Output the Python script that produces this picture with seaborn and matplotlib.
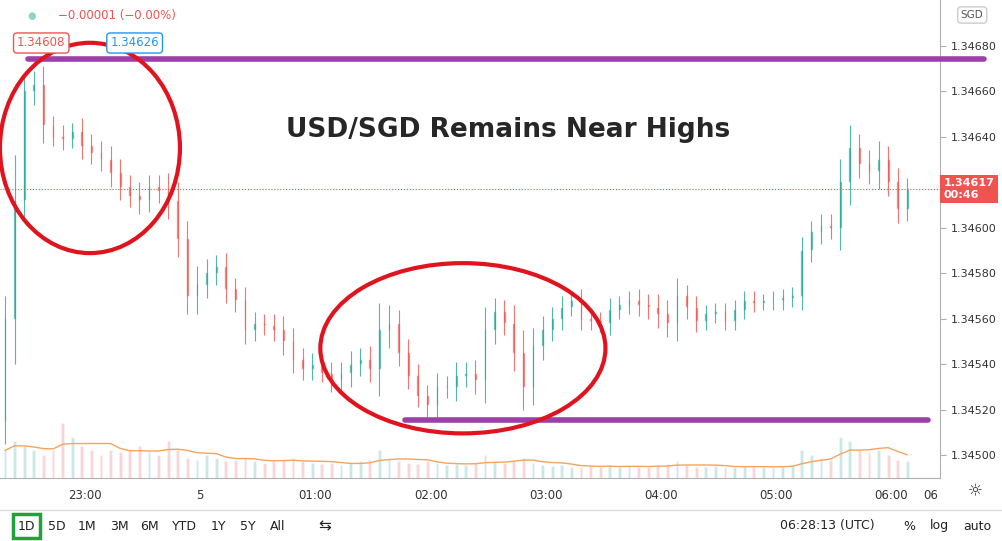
import numpy as np
import pandas as pd
import matplotlib.pyplot as plt
import seaborn as sns
from matplotlib.patches import Ellipse, Rectangle

# 5-minute bars, prices as offsets in 1e-5 above 1.34500
first_open = 15
closes = [60, 112, 160, 163, 145, 140, 139, 142, 136, 133, 130, 124, 118, 114, 112, 118, 116, 112, 95, 70,
          75, 80, 83, 73, 68, 55, 58, 57, 55, 50, 42, 38, 40, 36, 33, 36, 40, 42, 38, 55,
          58, 45, 35, 26, 22, 30, 30, 35, 36, 33, 55, 63, 58, 45, 30, 48, 55, 60, 65, 68,
          60, 59, 58, 64, 66, 68, 66, 65, 62, 58, 70, 65, 59, 62, 63, 59, 64, 68, 67, 68,
          68, 69, 70, 90, 98, 101, 100, 120, 135, 128, 125, 130, 120, 108, 117]
wicks = [10, 20, 8, 6, 8, 4, 5, 4, 6, 5, 5, 6, 6, 5, 6, 5, 5, 8, 8, 8,
         8, 6, 5, 6, 5, 6, 5, 4, 5, 6, 6, 5, 5, 4, 5, 5, 6, 5, 6, 12,
         8, 6, 6, 5, 5, 6, 5, 6, 5, 6, 10, 6, 5, 8, 10, 8, 6, 5, 5, 4,
         5, 4, 4, 5, 4, 4, 5, 5, 6, 6, 8, 5, 5, 4, 4, 4, 4, 4, 4, 3,
         4, 4, 4, 6, 5, 5, 5, 10, 10, 6, 6, 8, 6, 6, 5]
volumes = [30, 40, 35, 30, 25, 30, 60, 45, 35, 30, 25, 30, 28, 30, 35, 28, 25, 40, 30, 22,
           20, 25, 22, 18, 20, 22, 18, 16, 18, 20, 22, 18, 16, 15, 16, 14, 16, 18, 20, 30,
           22, 18, 16, 15, 18, 16, 14, 15, 14, 16, 25, 18, 16, 20, 22, 16, 14, 13, 14, 12,
           12, 13, 12, 14, 12, 13, 12, 12, 14, 15, 18, 14, 12, 12, 13, 12, 12, 13, 12, 12,
           12, 13, 14, 30, 25, 22, 20, 45, 40, 30, 28, 30, 25, 20, 18]
tick_labels = ["23:00", "5", "01:00", "02:00", "03:00", "04:00", "05:00", "06:00", "06"]
tick_minutes = [41.7, 101.7, 161.7, 221.7, 281.7, 341.7, 401.7, 461.7, 482]  # minutes after first bar
price_ticks = [1.34500, 1.34520, 1.34540, 1.34560, 1.34580, 1.34600, 1.34640, 1.34660, 1.34680]
last_price = 1.34617

base = 1.34500
c = base + np.array(closes) * 1e-5
o = np.concatenate([[base + first_open * 1e-5], c[:-1]])
w = np.array(wicks) * 1e-5
hi = np.maximum(o, c) + w
lo = np.minimum(o, c) - w
idx = np.arange(len(c))
df = pd.DataFrame({"i": idx, "vol": volumes})
df["ma"] = df["vol"].rolling(6, min_periods=1).mean()

sns.set_style("white")
plt.rcParams["font.family"] = ["DejaVu Sans"]
fig = plt.figure(figsize=(10.03, 5.41), dpi=100)
ax = fig.add_axes([0, 1 - 478 / 541, 940 / 1003, 478 / 541])

up_col, dn_col = "#26a69a", "#ef5350"
cols = [up_col if cc >= oo else dn_col for oo, cc in zip(o, c)]
ax.vlines(idx, lo, hi, colors=cols, linewidth=0.8, alpha=0.8)
ax.bar(idx, np.abs(c - o) + 0.3e-5, bottom=np.minimum(o, c), width=0.3, color=cols, alpha=0.8)

ax.set_xlim(-0.52, 97.4)
ax.set_ylim(1.34490, 1.34700)

# volume
vax = ax.twinx()
vax.bar(idx, volumes, width=0.3, color=cols, alpha=0.25)
sns.lineplot(data=df, x="i", y="ma", ax=vax, color="#f7a35c", linewidth=1)
vax.set_ylim(0, 520)
vax.set_axis_off()

# overlays
ax.axhline(last_price, color=dn_col, linestyle=":", linewidth=0.8)
ax.plot([2.4, 102], [1.34674, 1.34674], color="#9c3fa8", linewidth=4, clip_on=False, zorder=5)
ax.plot([41.7, 96.2], [1.345154, 1.345154], color="#9c3fa8", linewidth=4, zorder=5)
ax.add_patch(Ellipse((8.85, 1.34635), 18.75, 0.000924, fill=False, edgecolor="#e0141e", linewidth=3, zorder=6))
ax.add_patch(Ellipse((47.7, 1.34547), 29.7, 0.000748, fill=False, edgecolor="#e0141e", linewidth=3, zorder=6))
ax.text(52.4, 1.34643, "USD/SGD Remains Near Highs", fontsize=19, fontweight="bold", ha="center", va="center")

# axes styling
for s in ["top", "left"]:
    ax.spines[s].set_visible(False)
ax.spines["right"].set_color("#b0b0b0")
ax.spines["bottom"].set_color("#b0b0b0")
ax.yaxis.tick_right()
ax.set_yticks(price_ticks)
ax.set_yticklabels([f"{p:.5f}" for p in price_ticks], fontsize=8, color="#333333")
ax.tick_params(axis="y", length=4, color="#b0b0b0", pad=4)
ax.set_xticks([m / 5 for m in tick_minutes])
ax.set_xticklabels(tick_labels, fontsize=8.5, color="#333333")
ax.tick_params(axis="x", length=0, pad=8)

# price label
ax.text(1.004, (last_price - 1.34490) / 0.0021, "1.34617\n00:46", transform=ax.transAxes, fontsize=8,
        color="white", fontweight="bold", va="center", ha="left",
        bbox=dict(boxstyle="square,pad=0.3", fc="#f05350", ec="none"))

# header texts
fig.text(0.027, 1 - 16 / 541, "●", color="#8fd3c8", fontsize=7, va="center")
fig.text(0.058, 1 - 16 / 541, "−0.00001 (−0.00%)", color="#ef5350", fontsize=8.5, va="center")
fig.text(0.017, 1 - 43 / 541, "1.34608", color="#ef5350", fontsize=8.5, va="center",
         bbox=dict(boxstyle="round,pad=0.3", fc="white", ec="#ef5350"))
fig.text(0.11, 1 - 43 / 541, "1.34626", color="#2196f3", fontsize=8.5, va="center",
         bbox=dict(boxstyle="round,pad=0.3", fc="white", ec="#2196f3"))
fig.text(0.958, 1 - 15 / 541, "SGD", color="#555555", fontsize=7.5, va="center",
         bbox=dict(boxstyle="round,pad=0.3", fc="white", ec="#cccccc"))
fig.text(0.965, 1 - 491 / 541, "☼", color="#333333", fontsize=12, va="center")

# bottom toolbar
fig.add_artist(plt.Line2D([0, 1], [1 - 510 / 541] * 2, color="#dddddd", linewidth=1))
periods = ["1D", "5D", "1M", "3M", "6M", "YTD", "1Y", "5Y", "All"]
xs = [18, 48, 78, 110, 140, 172, 211, 240, 270]
for p, x in zip(periods, xs):
    fig.text(x / 1003, 1 - 526 / 541, p, fontsize=9, color="#222222", va="center")
fig.add_artist(Rectangle((13 / 1003, 1 - 538 / 541), 27 / 1003, 24 / 541, fill=False,
                         edgecolor="#22a03c", linewidth=2.5))
fig.text(318 / 1003, 1 - 526 / 541, "⇆", fontsize=11, color="#222222", va="center")
fig.text(780 / 1003, 1 - 526 / 541, "06:28:13 (UTC)", fontsize=9, color="#222222", va="center")
fig.text(903 / 1003, 1 - 526 / 541, "%", fontsize=9, color="#222222", va="center")
fig.text(930 / 1003, 1 - 526 / 541, "log", fontsize=9, color="#222222", va="center")
fig.text(963 / 1003, 1 - 526 / 541, "auto", fontsize=9, color="#222222", va="center")

fig.savefig("out.png", dpi=100)
